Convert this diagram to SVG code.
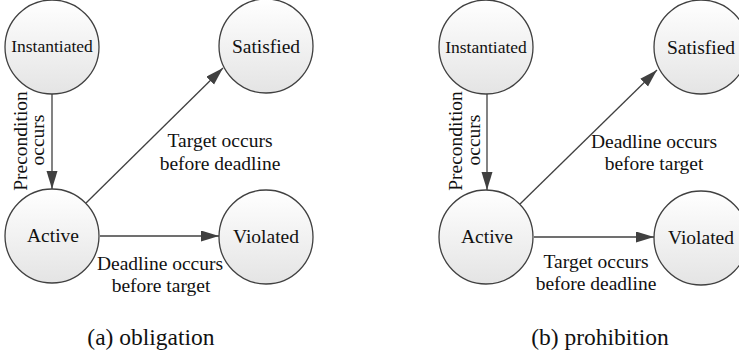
<svg xmlns="http://www.w3.org/2000/svg" width="739" height="357" viewBox="0 0 739 357">
  <defs>
    <linearGradient id="stateFill" x1="0" y1="0" x2="0" y2="1">
      <stop offset="0" stop-color="#ffffff"/>
      <stop offset="1" stop-color="#e4e4e4"/>
    </linearGradient>
    <marker id="arrow" markerUnits="userSpaceOnUse" markerWidth="19" markerHeight="12" refX="18" refY="5.5" orient="auto">
      <path d="M0,0 L18,5.5 L0,11 z" fill="#404040"/>
    </marker>
  </defs>
  <style>
    .state { fill: url(#stateFill); stroke: #404040; stroke-width: 1.3; }
    text { font-family: "Liberation Serif", "Times New Roman", serif; fill: #111; text-anchor: middle; }
    .nm { font-size: 19.5px; }
    .nm-s { font-size: 17.5px; }
    .edge { stroke: #404040; stroke-width: 1.3; fill: none; marker-end: url(#arrow); }
    .label { font-size: 19.5px; }
    .caption { font-size: 23.5px; }
  </style>

  <!-- (a) obligation -->
  <g id="obligation">
    <g id="a-instantiated">
      <circle class="state" cx="52" cy="47" r="47"/>
      <text class="nm-s" x="52" y="52">Instantiated</text>
    </g>
    <g id="a-satisfied">
      <circle class="state" cx="266" cy="46" r="47"/>
      <text class="nm" x="266" y="53">Satisfied</text>
    </g>
    <g id="a-active">
      <circle class="state" cx="52" cy="236" r="47"/>
      <text class="nm" x="53" y="242">Active</text>
    </g>
    <g id="a-violated">
      <circle class="state" cx="266" cy="237" r="47"/>
      <text class="nm" x="266" y="243">Violated</text>
    </g>
    <g id="a-connectors">
      <line class="edge" x1="52" y1="94" x2="52" y2="189"/>
      <line class="edge" x1="86" y1="203" x2="223" y2="68"/>
      <line class="edge" x1="100" y1="236" x2="219" y2="236"/>
      <text class="label" transform="translate(27,141) rotate(-90)">Precondition</text>
      <text class="label" transform="translate(44,140) rotate(-90)">occurs</text>
      <text class="label" x="220" y="147">Target occurs</text>
      <text class="label" x="220" y="170">before deadline</text>
      <text class="label" x="160" y="270">Deadline occurs</text>
      <text class="label" x="161" y="292">before target</text>
    </g>
    <text class="caption" x="151" y="345">(a) obligation</text>
  </g>

  <!-- (b) prohibition -->
  <g id="prohibition">
    <g id="b-instantiated">
      <circle class="state" cx="486" cy="47" r="47"/>
      <text class="nm-s" x="486" y="53">Instantiated</text>
    </g>
    <g id="b-satisfied">
      <circle class="state" cx="701" cy="47" r="47"/>
      <text class="nm" x="701" y="54">Satisfied</text>
    </g>
    <g id="b-active">
      <circle class="state" cx="486" cy="237" r="47"/>
      <text class="nm" x="487" y="243">Active</text>
    </g>
    <g id="b-violated">
      <circle class="state" cx="701" cy="238" r="47"/>
      <text class="nm" x="701" y="244">Violated</text>
    </g>
    <g id="b-connectors">
      <line class="edge" x1="487" y1="94" x2="487" y2="190"/>
      <line class="edge" x1="520" y1="204" x2="657" y2="70"/>
      <line class="edge" x1="534" y1="237" x2="654" y2="237"/>
      <text class="label" transform="translate(462,141) rotate(-90)">Precondition</text>
      <text class="label" transform="translate(480,140) rotate(-90)">occurs</text>
      <text class="label" x="654" y="148">Deadline occurs</text>
      <text class="label" x="654" y="170">before target</text>
      <text class="label" x="596" y="268">Target occurs</text>
      <text class="label" x="596" y="290">before deadline</text>
    </g>
    <text class="caption" x="600" y="345">(b) prohibition</text>
  </g>
</svg>
